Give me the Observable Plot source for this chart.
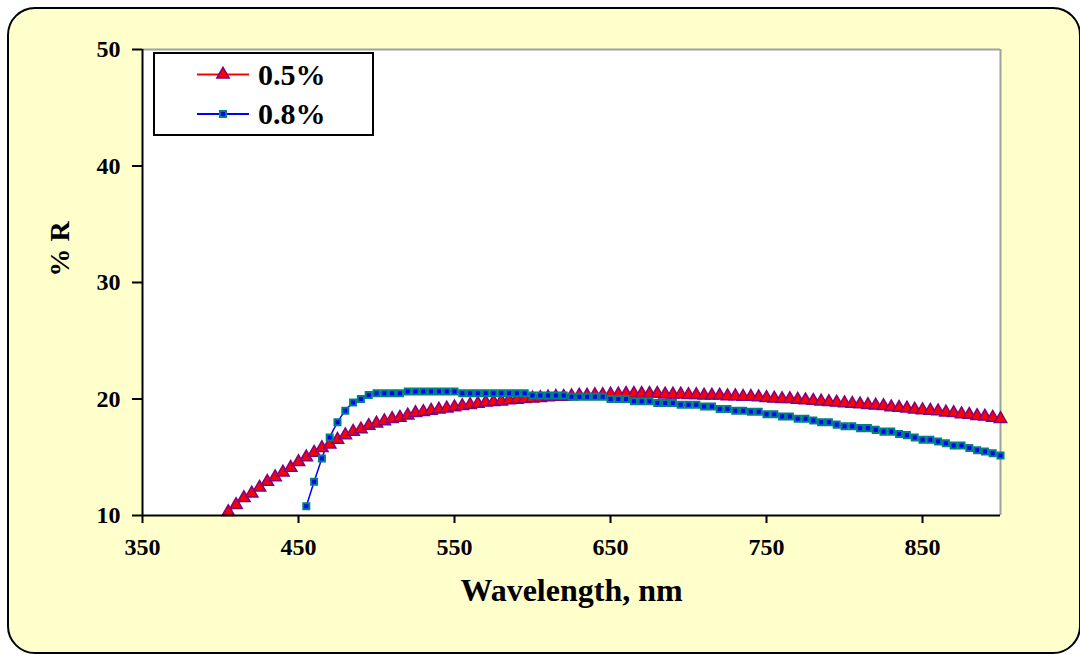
<!DOCTYPE html>
<html>
<head>
<meta charset="utf-8">
<script src="https://cdn.jsdelivr.net/npm/d3@7"></script>
<script src="https://cdn.jsdelivr.net/npm/@observablehq/plot@0.6"></script>
<style>
  html, body { margin: 0; padding: 0; background: #ffffff; }
  #wrap { position: relative; width: 1080px; height: 654px; overflow: hidden; }
  #bg { position: absolute; left: 7px; top: 7px; width: 1070px; height: 643px;
        border: 2px solid #000; border-radius: 28px; background: #FFFFCC; }
  #chart { position: absolute; left: 0; top: 0; }
  #legend { position: absolute; left: 0; top: 0; }
</style>
</head>
<body>
<div id="wrap">
  <div id="bg"></div>
  <div id="chart"></div>
  <div id="legend"></div>
</div>
<script>
// ---- data ----
const xTicks = [350, 450, 550, 650, 750, 850];
const yTicks = [10, 20, 30, 40, 50];
const seriesNames = ["0.5%", "0.8%"];

const wl05 = d3.range(405, 901, 5);
const r05 = [
  10.3, 10.9, 11.5, 11.9, 12.4, 12.9, 13.3, 13.7, 14.1, 14.6,
  15.0, 15.4, 15.8, 16.1, 16.5, 16.9, 17.2, 17.4, 17.7, 17.9,
  18.1, 18.3, 18.4, 18.6, 18.8, 18.9, 19.0, 19.1, 19.2, 19.3,
  19.4, 19.5, 19.6, 19.7, 19.75, 19.8, 19.9, 19.95, 20.0, 20.05,
  20.1, 20.15, 20.2, 20.2, 20.25, 20.3, 20.3, 20.35, 20.35, 20.4,
  20.4, 20.45, 20.45, 20.45, 20.45, 20.45, 20.4, 20.4, 20.4, 20.35,
  20.35, 20.3, 20.3, 20.3, 20.25, 20.25, 20.2, 20.2, 20.15, 20.1,
  20.05, 20.0, 20.0, 19.95, 19.9, 19.85, 19.8, 19.75, 19.7, 19.65,
  19.6, 19.55, 19.5, 19.45, 19.4, 19.3, 19.25, 19.2, 19.1, 19.05,
  19.0, 18.95, 18.85, 18.8, 18.7, 18.65, 18.55, 18.5, 18.4, 18.3
];

const wl08 = d3.range(455, 901, 5);
const r08 = [
  10.8, 12.9, 14.9, 16.7, 18.0, 19.0, 19.7, 20.0, 20.35, 20.5,
  20.5, 20.5, 20.5, 20.65, 20.65, 20.65, 20.65, 20.65, 20.65, 20.65,
  20.5, 20.5, 20.5, 20.5, 20.5, 20.5, 20.5, 20.5, 20.5, 20.3,
  20.3, 20.3, 20.3, 20.3, 20.2, 20.2, 20.2, 20.2, 20.2, 20.0,
  20.0, 20.0, 19.8, 19.8, 19.8, 19.65, 19.65, 19.65, 19.5, 19.5,
  19.5, 19.35, 19.35, 19.15, 19.15, 19.0, 19.0, 18.9, 18.9, 18.7,
  18.7, 18.5, 18.5, 18.3, 18.3, 18.15, 18.0, 18.0, 17.8, 17.67,
  17.67, 17.5, 17.5, 17.35, 17.2, 17.2, 17.0, 16.9, 16.7, 16.5,
  16.5, 16.35, 16.2, 16.0, 16.0, 15.8, 15.6, 15.5, 15.35, 15.15
];

const d05 = wl05.map((w, i) => ({x: w, y: r05[i]}));
const d08 = wl08.map((w, i) => ({x: w, y: r08[i]}));

const serif = "'Liberation Serif', 'Times New Roman', serif";

const chart = Plot.plot({
  width: 1080,
  height: 654,
  marginLeft: 142,
  marginRight: 80,
  marginTop: 49,
  marginBottom: 139,
  style: {background: "transparent", fontFamily: serif, fontWeight: "bold", fontSize: "24px", color: "#000"},
  x: {domain: [350, 900]},
  y: {domain: [10, 50]},
  marks: [
    Plot.frame({fill: "white", stroke: null}),
    Plot.ruleY([50], {stroke: "#a0a0a0", strokeWidth: 2}),
    Plot.ruleX([900], {stroke: "#a0a0a0", strokeWidth: 2}),
    Plot.line(d05, {x: "x", y: "y", stroke: "#FF0000", strokeWidth: 1.5, curve: "catmull-rom"}),
    Plot.line(d08, {x: "x", y: "y", stroke: "#0000FF", strokeWidth: 1.5, curve: "catmull-rom"}),
    Plot.dot(d05, {x: "x", y: "y", symbol: "triangle", r: 4.6, fill: "#FF0000", stroke: "#800080", strokeWidth: 1.5}),
    Plot.dot(d08, {x: "x", y: "y", symbol: "square", r: 3.4, fill: "#0000FF", stroke: "#008080", strokeWidth: 2}),
    Plot.ruleY([10], {stroke: "#000", strokeWidth: 2}),
    Plot.ruleX([350], {stroke: "#000", strokeWidth: 2}),
    Plot.axisX({ticks: xTicks, tickFormat: d => String(d), tickSize: 8, tickPadding: 14, stroke: "#000", strokeWidth: 2, label: null, fontSize: 24, fontWeight: "bold"}),
    Plot.axisY({ticks: yTicks, tickFormat: d => String(d), tickSize: 10, tickPadding: 12, stroke: "#000", strokeWidth: 2, label: null, fontSize: 24, fontWeight: "bold"}),
    Plot.text(["Wavelength, nm"], {frameAnchor: "bottom", dy: 85, text: d => d, fontSize: 32, fontWeight: "bold", fill: "#000"}),
    Plot.text(["% R"], {frameAnchor: "left", dx: -82, dy: -6, rotate: -90, text: d => d, fontSize: 28, fontWeight: "bold", fill: "#000"})
  ]
});
document.getElementById("chart").appendChild(chart);

// ---- legend ----
const ns = "http://www.w3.org/2000/svg";
const lg = document.createElementNS(ns, "svg");
lg.setAttribute("width", 1080);
lg.setAttribute("height", 654);
const legendItems = [
  {name: seriesNames[0], line: "#FF0000", symbol: d3.symbolTriangle, size: 66, fill: "#FF0000", stroke: "#800080", sw: 1.5},
  {name: seriesNames[1], line: "#0000FF", symbol: d3.symbolSquare, size: 36, fill: "#0000FF", stroke: "#008080", sw: 2}
];
const box = document.createElementNS(ns, "rect");
box.setAttribute("x", 154); box.setAttribute("y", 53);
box.setAttribute("width", 219); box.setAttribute("height", 82);
box.setAttribute("fill", "white"); box.setAttribute("stroke", "#000"); box.setAttribute("stroke-width", 2);
lg.appendChild(box);
legendItems.forEach((it, i) => {
  const cy = 74.5 + i * 39.5;
  const l = document.createElementNS(ns, "line");
  l.setAttribute("x1", 197); l.setAttribute("x2", 249);
  l.setAttribute("y1", cy); l.setAttribute("y2", cy);
  l.setAttribute("stroke", it.line); l.setAttribute("stroke-width", 2);
  lg.appendChild(l);
  const p = document.createElementNS(ns, "path");
  p.setAttribute("d", d3.symbol(it.symbol, it.size)());
  p.setAttribute("transform", `translate(223,${cy})`);
  p.setAttribute("fill", it.fill); p.setAttribute("stroke", it.stroke); p.setAttribute("stroke-width", it.sw);
  lg.appendChild(p);
  const t = document.createElementNS(ns, "text");
  t.setAttribute("x", 258); t.setAttribute("y", cy + 10);
  t.setAttribute("font-family", serif); t.setAttribute("font-weight", "bold"); t.setAttribute("font-size", 30);
  t.textContent = it.name;
  lg.appendChild(t);
});
document.getElementById("legend").appendChild(lg);
</script>
</body>
</html>
